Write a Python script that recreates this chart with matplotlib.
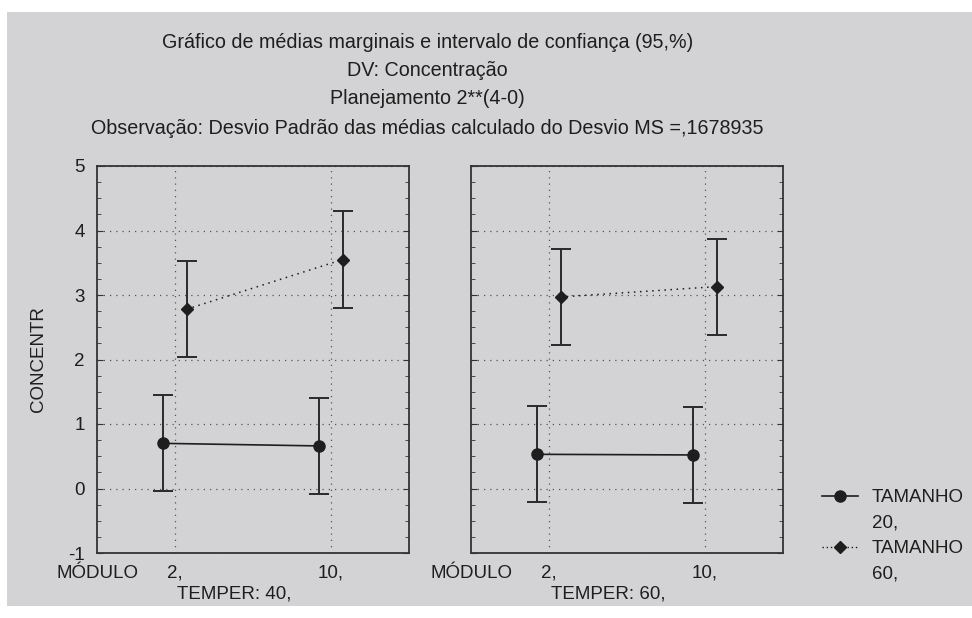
import numpy as np
import matplotlib
matplotlib.use('Agg')
import matplotlib.pyplot as plt
from matplotlib.patches import Rectangle
from matplotlib.lines import Line2D
from matplotlib.ticker import MultipleLocator

plt.rcParams['font.family'] = ['Liberation Sans', 'DejaVu Sans']
plt.rcParams['axes.unicode_minus'] = False

# data
temper_levels = ['40,', '60,']
modulo_levels = ['2,', '10,']
tamanho20_means = [[0.70, 0.66], [0.53, 0.52]]
tamanho60_means = [[2.78, 3.55], [2.97, 3.13]]
ci_half = 0.745
title_lines = ['Gráfico de médias marginais e intervalo de confiança (95,%)',
               'DV: Concentração',
               'Planejamento 2**(4-0)',
               'Observação: Desvio Padrão das médias calculado do Desvio MS =,1678935']

bg = '#d3d3d5'
ink = '#1e1e1e'
fs = 13.5

fig = plt.figure(figsize=(9.72, 6.18), dpi=100, facecolor='white')
fig.patches.append(Rectangle((7 / 972, 12 / 618), 1 - 7 / 972, 594 / 618,
                             transform=fig.transFigure, facecolor=bg,
                             edgecolor='none', zorder=-10))

title_y = [42, 70, 99, 128]
for line, yy in zip(title_lines, title_y):
    fig.text(0.440, 1 - yy / 618, line, ha='center', va='center', fontsize=14.2, color=ink)

ax_w = 312 / 972
ax_h = 387 / 618
ax_b = 65 / 618
axes = [fig.add_axes([97 / 972, ax_b, ax_w, ax_h]),
        fig.add_axes([471 / 972, ax_b, ax_w, ax_h])]

x = np.arange(len(modulo_levels))
off = 0.075
for i, ax in enumerate(axes):
    ax.set_facecolor(bg)
    ax.errorbar(x - off, tamanho20_means[i], yerr=ci_half, color=ink, lw=1.2,
                marker='o', ms=8, ecolor='#2a2a2a', elinewidth=1.4, capsize=7.5,
                capthick=1.4, zorder=3)
    ax.errorbar(x + off, tamanho60_means[i], yerr=ci_half, color=ink, lw=1.1,
                ls=(0, (1, 3)), marker='D', ms=6, ecolor='#2a2a2a', elinewidth=1.4,
                capsize=7.5, capthick=1.4, zorder=3)
    ax.set_xlim(-0.5, 1.5)
    ax.set_ylim(-1, 5)
    ax.set_xticks(x)
    ax.set_xticklabels(modulo_levels, fontsize=fs, color=ink)
    ax.yaxis.set_major_locator(MultipleLocator(1))
    ax.yaxis.set_minor_locator(MultipleLocator(0.25))
    ax.tick_params(axis='x', length=0, pad=8)
    ax.tick_params(axis='y', which='both', direction='in', left=True, right=True,
                   colors='#333333', labelcolor=ink, labelsize=fs, pad=9)
    ax.tick_params(axis='y', which='major', length=4)
    ax.tick_params(axis='y', which='minor', length=3)
    ax.grid(True, which='major', color='#555555', lw=0.9, ls=(0, (1, 4)))
    for s in ax.spines.values():
        s.set_color('#333333')
        s.set_linewidth(1.3)
    ax.text(0, -0.052, 'MÓDULO', transform=ax.transAxes, ha='center', va='center',
            fontsize=fs, color=ink)
    ax.text(0.44, -0.105, 'TEMPER: ' + temper_levels[i], transform=ax.transAxes,
            ha='center', va='center', fontsize=fs, color=ink)

axes[1].tick_params(axis='y', labelleft=False)
axes[0].set_ylabel('CONCENTR', fontsize=fs, color=ink)
axes[0].yaxis.set_label_coords(-0.16, 0.5)

handles = [Line2D([], [], color=ink, lw=1.2, marker='o', ms=8),
           Line2D([], [], ls='none'),
           Line2D([], [], color=ink, lw=1.0, ls=(0, (1, 2)), marker='D', ms=6),
           Line2D([], [], ls='none')]
labels = ['TAMANHO', '20,', 'TAMANHO', '60,']
fig.legend(handles, labels, loc='upper left', bbox_to_anchor=(822 / 972, 1 - 489 / 618),
           frameon=False, fontsize=fs, handlelength=1.9, handletextpad=0.75,
           labelspacing=0.45, borderpad=0, borderaxespad=0, labelcolor=ink)

fig.savefig('out.png', dpi=100, facecolor='white')
